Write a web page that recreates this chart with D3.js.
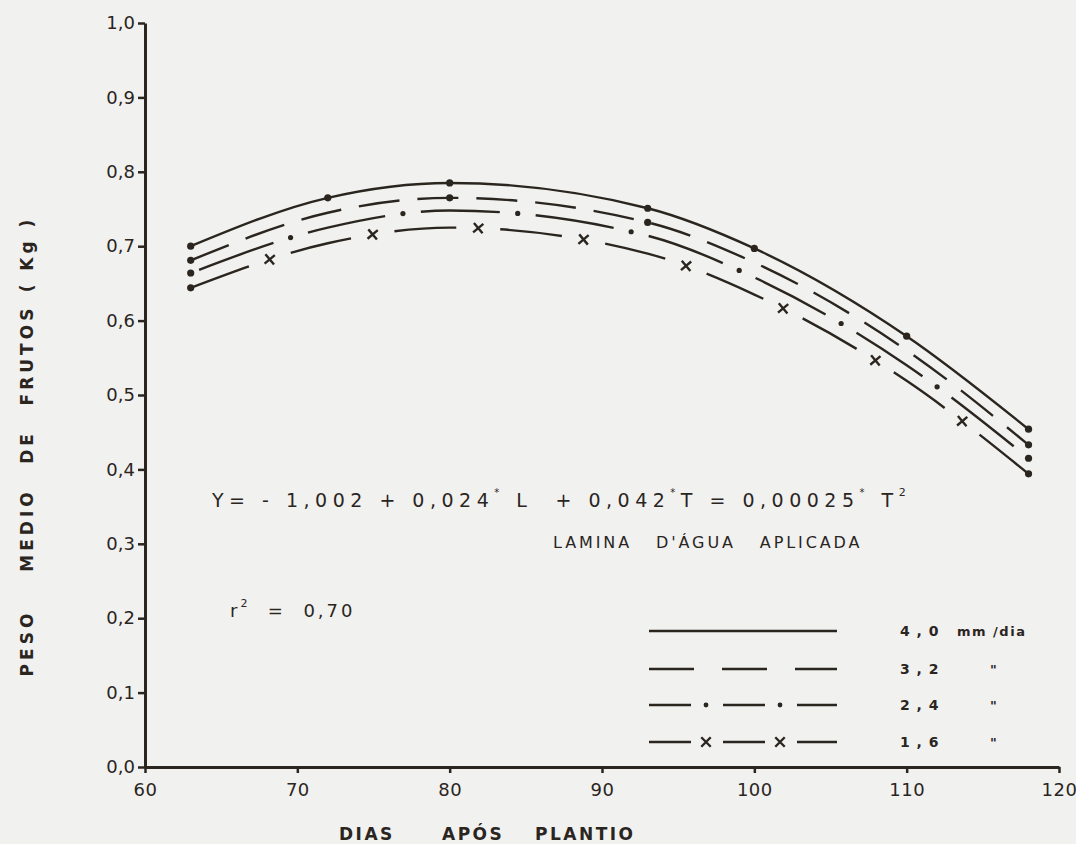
<!DOCTYPE html>
<html>
<head>
<meta charset="utf-8">
<script src="https://cdn.jsdelivr.net/npm/d3@7"></script>
<style>
  html, body { margin: 0; padding: 0; background: #f1f1ef; }
  svg { display: block; }
  text { font-family: "DejaVu Sans", sans-serif; fill: #2a251e; white-space: pre; }
</style>
</head>
<body>
<div id="chart"></div>
<script>
// dias apos plantio
const days = [63, 72, 80, 93, 100, 110, 118];
// peso medio de frutos (Kg) por lamina d'agua
const peso40 = [0.700, 0.765, 0.785, 0.751, 0.697, 0.579, 0.454];
const peso32 = [0.681, 0.745, 0.765, 0.732, 0.678, 0.560, 0.433];
const peso24 = [0.664, 0.725, 0.748, 0.714, 0.658, 0.540, 0.415];
const peso16 = [0.644, 0.704, 0.725, 0.690, 0.635, 0.519, 0.394];
const laminas = ["4,0", "3,2", "2,4", "1,6"];
const legendUnits = ["mm /dia", "\"", "\"", "\""];
// dias com ponto marcado em cada curva
const marks40 = [63, 72, 80, 93, 100, 110, 118];
const marks32 = [63, 80, 93, 118];
const marks24 = [63, 118];
const marks16 = [63, 118];
const xTicks = [60, 70, 80, 90, 100, 110, 120];
const yTicks = [0, 0.1, 0.2, 0.3, 0.4, 0.5, 0.6, 0.7, 0.8, 0.9, 1.0];
const yTitleWords = ["PESO", "MEDIO", "DE", "FRUTOS", "( Kg )"];

const W = 1076, H = 844;
const ink = "#2a251e";

const svg = d3.select("#chart").append("svg")
    .attr("width", W).attr("height", H);

const x = d3.scaleLinear().domain([60, 120]).range([145, 1059]);
const y = d3.scaleLinear().domain([0, 1]).range([767, 23]);

const fmt = d => d3.format(".1f")(d).replace(".", ",");

// eixos
const gy = svg.append("g").attr("transform", `translate(${x(60)},0)`)
    .call(d3.axisLeft(y).tickValues(yTicks).tickFormat(fmt).tickSize(7).tickSizeOuter(0).tickPadding(3));
gy.select(".domain").attr("stroke", ink).attr("stroke-width", 3);
gy.selectAll(".tick line").attr("stroke", ink).attr("stroke-width", 2.5);
gy.selectAll(".tick text").attr("font-size", 18).attr("fill", ink);

const gx = svg.append("g").attr("transform", `translate(0,${y(0)})`)
    .call(d3.axisBottom(x).tickValues(xTicks).tickSize(6).tickSizeOuter(0).tickPadding(10));
gx.select(".domain").attr("stroke", ink).attr("stroke-width", 3);
gx.selectAll(".tick line").attr("stroke", ink).attr("stroke-width", 2.5);
gx.selectAll(".tick text").attr("font-size", 18).attr("fill", ink).attr("letter-spacing", 0.5);

// curvas
const line = d3.line()
    .curve(d3.curveMonotoneX)
    .x(d => x(d[0]))
    .y(d => y(d[1]));

const series = [
  {vals: peso40, marks: marks40, dash: null},
  {vals: peso32, marks: marks32, dash: [41, 18]},
  {vals: peso24, marks: marks24, dash: [79, 36], sym: "dot", first: 106},
  {vals: peso16, marks: marks16, dash: [62, 44], sym: "x", first: 84}
];

const crossPath = d3.symbol(d3.symbolX, 60)();

series.forEach(function(s) {
  const pts = days.map((d, i) => [d, s.vals[i]]);
  const p = svg.append("path")
      .datum(pts)
      .attr("fill", "none")
      .attr("stroke", ink)
      .attr("stroke-width", 2.4)
      .attr("d", line);
  if (s.dash) {
    if (s.sym) {
      // gap centred on each symbol
      const period = s.dash[0] + s.dash[1];
      const off = s.first - s.dash[0] - s.dash[1] / 2;
      p.attr("stroke-dasharray", s.dash.join(",")).attr("stroke-dashoffset", -off);
      const node = p.node(), len = node.getTotalLength();
      const pos = [];
      for (let l = s.first; l < len - 20; l += period) pos.push(node.getPointAtLength(l));
      if (s.sym === "dot") {
        svg.selectAll(null).data(pos).enter().append("circle")
            .attr("cx", d => d.x).attr("cy", d => d.y).attr("r", 2.6).attr("fill", ink);
      } else {
        svg.selectAll(null).data(pos).enter().append("path")
            .attr("d", crossPath)
            .attr("transform", d => `translate(${d.x},${d.y}) rotate(5)`)
            .attr("fill", "none").attr("stroke", ink).attr("stroke-width", 2.4);
      }
    } else {
      p.attr("stroke-dasharray", s.dash.join(","));
    }
  }
  const mk = s.marks.map(d => [d, s.vals[days.indexOf(d)]]);
  svg.selectAll(null).data(mk).enter().append("circle")
      .attr("cx", d => x(d[0])).attr("cy", d => y(d[1]))
      .attr("r", 3.6).attr("fill", ink);
});

// titulos dos eixos
const yTitleAt = [643, 530, 447, 355, 254];
yTitleWords.forEach(function(w, i) {
  svg.append("text")
      .attr("transform", `translate(33,${yTitleAt[i]}) rotate(-90)`)
      .attr("text-anchor", "middle")
      .attr("font-size", 17).attr("font-weight", "bold").attr("letter-spacing", 4)
      .text(w);
});

const xt = svg.append("text").attr("y", 840)
    .attr("font-size", 17).attr("font-weight", "bold").attr("letter-spacing", 2.5);
xt.append("tspan").attr("x", 339).text("DIAS");
xt.append("tspan").attr("x", 442).text("APÓS");
xt.append("tspan").attr("x", 535).text("PLANTIO");

// equacao
const eq = svg.append("text").attr("x", 212).attr("y", 507)
    .attr("font-size", 19).attr("letter-spacing", 5.5);
eq.append("tspan").text("Y= - 1,002 + 0,024");
eq.append("tspan").attr("font-size", 10).attr("dy", -11).text("*");
eq.append("tspan").attr("dy", 11).text(" L  + 0,042");
eq.append("tspan").attr("font-size", 10).attr("dy", -11).text("*");
eq.append("tspan").attr("dy", 11).text("T = 0,00025");
eq.append("tspan").attr("font-size", 10).attr("dy", -11).text("*");
eq.append("tspan").attr("dy", 11).text(" T");
eq.append("tspan").attr("font-size", 11).attr("dy", -11).text("2");

svg.append("text").attr("x", 553).attr("y", 548)
    .attr("font-size", 16).attr("letter-spacing", 2.9)
    .text("LAMINA   D'ÁGUA   APLICADA");

const r2 = svg.append("text").attr("x", 230).attr("y", 617)
    .attr("font-size", 18).attr("letter-spacing", 3);
r2.append("tspan").text("r");
r2.append("tspan").attr("font-size", 11).attr("dy", -10).text("2");
r2.append("tspan").attr("dy", 10).text("  =  0,70");

// legenda
const legY = [631, 669, 705, 742];
const legX0 = 649, legX1 = 837;
const legDash = [null, "45,28", "42,32", "42,32"];
laminas.forEach(function(lab, i) {
  const ly = legY[i];
  svg.append("line")
      .attr("x1", legX0).attr("x2", legX1).attr("y1", ly).attr("y2", ly)
      .attr("stroke", ink).attr("stroke-width", 2.4)
      .attr("stroke-dasharray", legDash[i]);
  if (i >= 2) {
    [706, 780].forEach(function(sx) {
      if (i === 2) {
        svg.append("circle").attr("cx", sx).attr("cy", ly).attr("r", 2.4).attr("fill", ink);
      } else {
        svg.append("path").attr("d", crossPath)
            .attr("transform", `translate(${sx},${ly})`)
            .attr("fill", "none").attr("stroke", ink).attr("stroke-width", 2.4);
      }
    });
  }
  svg.append("text").attr("x", 900).attr("y", ly + 5)
      .attr("font-size", 14).attr("font-weight", "bold").attr("letter-spacing", 1)
      .text(lab.replace(",", " , "));
  svg.append("text").attr("x", i === 0 ? 957 : 990).attr("y", ly + 5)
      .attr("font-size", 13).attr("font-weight", "bold").attr("letter-spacing", 1.5)
      .text(legendUnits[i]);
});
</script>
</body>
</html>
